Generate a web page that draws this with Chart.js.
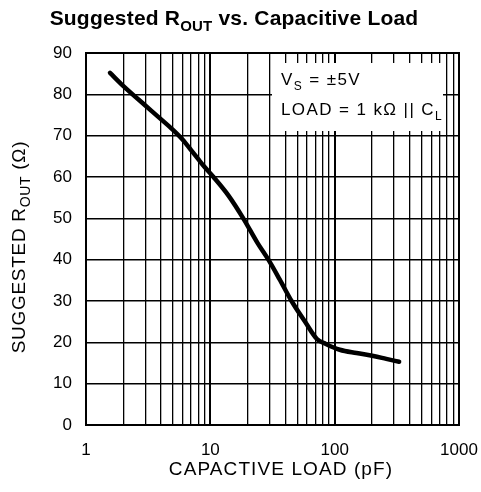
<!doctype html>
<html lang="en">
<head>
    <meta charset="UTF-8">
    <title>Suggested ROUT vs. Capacitive Load</title>
    <script src="https://cdn.jsdelivr.net/npm/chart.js"></script>
    <style>
        body { margin: 0; background: #fff; }
        canvas { display: block; }
    </style>
</head>
<body>

<canvas id="myChart" width="481" height="492"></canvas>

<script>
    var loadPF  = [1.56, 2, 3, 4, 5, 6, 7, 8, 9, 10.6, 14, 18.4, 24, 29.3, 36, 45, 58, 72, 85, 110, 150, 205, 260, 330];
    var routOhm = [85.2, 82, 77.3, 74, 71.4, 69, 66.5, 64.3, 62.4, 60, 55.5, 50, 44, 40, 35.3, 30, 24.9, 20.8, 19.6, 18.2, 17.4, 16.7, 16, 15.3];

    var xDecades = [1, 10, 100, 1000];
    var yTicks = [0, 10, 20, 30, 40, 50, 60, 70, 80, 90];

    var FONT = '"Liberation Sans", Arial, Helvetica, sans-serif';

    // grid lines at 1..9 of every decade
    var xGrid = [];
    xDecades.forEach(function (d, i) {
        if (i === xDecades.length - 1) { xGrid.push(d); return; }
        for (var m = 1; m <= 9; m++) xGrid.push(d * m);
    });

    // text with subscript pieces: parts = [[text, isSub], ...]
    function drawParts(ctx, parts, x, y, size, weight, align, spacing) {
        var subSize = Math.round(size * 0.72);
        ctx.letterSpacing = (spacing || 0) + 'px';
        var w = 0;
        parts.forEach(function (p) {
            ctx.font = weight + ' ' + (p[1] ? subSize : size) + 'px ' + FONT;
            w += ctx.measureText(p[0]).width;
        });
        var cx = align === 'center' ? x - w / 2 : x;
        ctx.textAlign = 'left';
        ctx.textBaseline = 'alphabetic';
        parts.forEach(function (p) {
            ctx.font = weight + ' ' + (p[1] ? subSize : size) + 'px ' + FONT;
            ctx.fillText(p[0], cx, p[1] ? y + size * 0.28 : y);
            cx += ctx.measureText(p[0]).width;
        });
        ctx.letterSpacing = '0px';
    }

    var textPlugin = {
        id: 'texts',
        beforeDatasetsDraw: function (chart) {
            var ctx = chart.ctx;
            ctx.save();
            // white label box over the grid
            ctx.fillStyle = '#fff';
            ctx.fillRect(272, 63, 171, 68);
            ctx.fillStyle = '#000';
            drawParts(ctx, [['V', false], ['S', true], [' = \u00b15V', false]], 281, 85, 17, 'normal', 'left', 1.4);
            drawParts(ctx, [['LOAD = 1 k\u03a9 || C', false], ['L', true]], 281, 115, 17, 'normal', 'left', 1.4);
            ctx.restore();
        },
        afterDraw: function (chart) {
            var ctx = chart.ctx;
            var area = chart.chartArea;
            ctx.save();
            ctx.fillStyle = '#000';
            drawParts(ctx, [['Suggested R', false], ['OUT', true], [' vs. Capacitive Load', false]], 234, 25, 21, 'bold', 'center', 0.2);
            drawParts(ctx, [['CAPACTIVE LOAD (pF)', false]], 281, 475, 19, 'normal', 'center', 1.1);
            ctx.translate(25, 247);
            ctx.rotate(-Math.PI / 2);
            drawParts(ctx, [['SUGGESTED R', false], ['OUT', true], [' (\u03a9)', false]], 0, 0, 19, 'normal', 'center', 0.7);
            ctx.restore();
            // plot frame
            ctx.save();
            ctx.strokeStyle = '#000';
            ctx.lineWidth = 2;
            ctx.strokeRect(area.left, area.top, area.right - area.left, area.bottom - area.top);
            ctx.restore();
        }
    };

    var ctx = document.getElementById('myChart');

    var myChart = new Chart(ctx, {
        type: 'line',
        data: {
            datasets: [{
                data: loadPF.map(function (x, i) { return {x: x, y: routOhm[i]}; }),
                borderColor: '#000',
                borderWidth: 4.5,
                borderCapStyle: 'round',
                borderJoinStyle: 'round',
                pointRadius: 0,
                cubicInterpolationMode: 'monotone',
                fill: false
            }]
        },
        options: {
            responsive: false,
            animation: false,
            devicePixelRatio: 1,
            layout: {padding: {left: 0, right: 22, top: 53, bottom: 0}},
            plugins: {legend: {display: false}, tooltip: {enabled: false}},
            scales: {
                x: {
                    type: 'logarithmic',
                    min: 1,
                    max: 1000,
                    afterBuildTicks: function (s) {
                        s.ticks = xGrid.map(function (v) { return {value: v}; });
                    },
                    afterFit: function (s) {
                        s.height = 67;
                        s.paddingLeft = 0;
                        s.paddingRight = 0;
                    },
                    ticks: {
                        autoSkip: false,
                        maxRotation: 0,
                        padding: 15,
                        color: '#000',
                        font: {family: FONT, size: 17},
                        callback: function (v) { return xDecades.indexOf(v) >= 0 ? String(v) : ''; }
                    },
                    grid: {
                        color: '#000',
                        drawTicks: false,
                        lineWidth: function (c) { return xDecades.indexOf(c.tick && c.tick.value) >= 0 ? 2 : 1.3; }
                    },
                    border: {display: false}
                },
                y: {
                    min: 0,
                    max: 90,
                    afterBuildTicks: function (s) {
                        s.ticks = yTicks.map(function (v) { return {value: v}; });
                    },
                    afterFit: function (s) {
                        s.width = 86;
                        s.paddingTop = 0;
                        s.paddingBottom = 0;
                    },
                    ticks: {
                        padding: 14,
                        color: '#000',
                        font: {family: FONT, size: 17}
                    },
                    grid: {color: '#000', drawTicks: false, lineWidth: 1.5},
                    border: {display: false}
                }
            }
        },
        plugins: [textPlugin]
    });
</script>
</body>
</html>
